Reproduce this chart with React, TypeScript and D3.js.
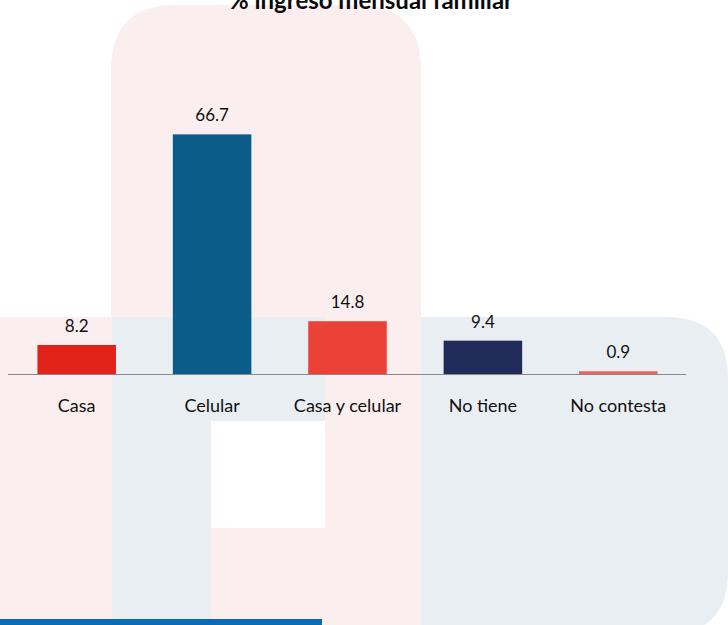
import React from "react";
import * as d3 from "d3";

const categories = ["Casa", "Celular", "Casa y celular", "No tiene", "No contesta"];
const values = [8.2, 66.7, 14.8, 9.4, 0.9];
const barColors = ["#E2231A", "#0B5C88", "#EB4237", "#212B5A", "#E8625F"];
const title = "% ingreso mensual familiar";

const W = 728;
const H = 625;
const PINK = "#FAEEEE";
const GRAY = "#E9EEF3";
const FONT = "Lato, 'Open Sans', sans-serif";

export default function App() {
  const x = d3
    .scaleBand<string>()
    .domain(categories)
    .range([9, 686])
    .paddingInner(0.42)
    .paddingOuter(0.21);
  const y = d3.scaleLinear().domain([0, 70]).range([374.5, 122.5]);
  const baseY = y(0);

  // background watermark shapes
  const r1 = 65;
  const pinkTop = `M111,317 L111,${5 + r1} Q111,5 ${111 + r1},5 L${421 - r1},5 Q421,5 421,${5 + r1} L421,317 Z`;
  const r2 = 62;
  const grayShape = `M112,317 L${728 - r2},317 Q728,317 728,${317 + r2} L728,${634 - r2} Q728,634 ${728 - r2},634 L112,634 Z`;

  return (
    <svg
      width={W}
      height={H}
      viewBox={`0 0 ${W} ${H}`}
      style={{ position: "absolute", left: 0, top: 0, background: "#fff" }}
    >
      <rect x={0} y={0} width={W} height={H} fill="#fff" />
      <path d={pinkTop} fill={PINK} />
      <rect x={0} y={317} width={112} height={H - 317} fill={PINK} />
      <path d={grayShape} fill={GRAY} />
      <rect x={325} y={317} width={96} height={H - 317} fill={PINK} />
      <rect x={211} y={528} width={114} height={H - 528} fill={PINK} />
      <rect x={211} y={421} width={114} height={107} fill="#fff" />
      <rect x={0} y={619} width={322} height={6} fill="#0A6AB6" />

      <text
        x={371}
        y={8.5}
        textAnchor="middle"
        fontFamily={FONT}
        fontWeight={700}
        fontSize={24}
        fill="#0a0a0a"
      >
        {title}
      </text>

      {categories.map((c, i) => (
        <rect
          key={c}
          x={x(c)}
          y={y(values[i])}
          width={x.bandwidth()}
          height={baseY - y(values[i])}
          fill={barColors[i]}
        />
      ))}

      <line x1={8} x2={686} y1={baseY} y2={baseY} stroke="#898989" strokeWidth={1.2} />

      {categories.map((c, i) => (
        <text
          key={"v" + c}
          x={(x(c) as number) + x.bandwidth() / 2}
          y={y(values[i]) - 13}
          textAnchor="middle"
          fontFamily={FONT}
          fontSize={17}
          fill="#111"
        >
          {values[i].toFixed(1)}
        </text>
      ))}

      {categories.map((c) => (
        <text
          key={"c" + c}
          x={(x(c) as number) + x.bandwidth() / 2}
          y={411.5}
          textAnchor="middle"
          fontFamily={FONT}
          fontSize={18}
          fill="#111"
        >
          {c}
        </text>
      ))}
    </svg>
  );
}
